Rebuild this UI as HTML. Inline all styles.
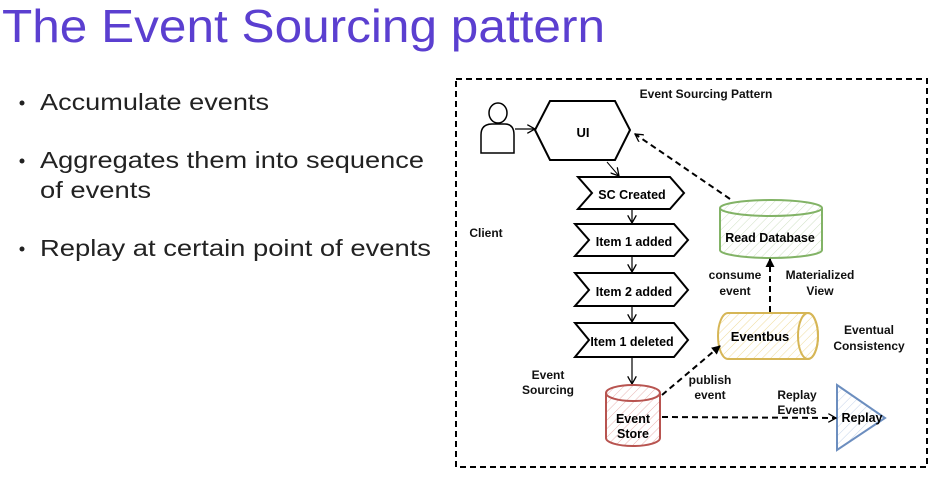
<!DOCTYPE html>
<html><head><meta charset="utf-8"><style>
html,body{margin:0;padding:0;background:#fff;width:937px;height:478px;overflow:hidden}
svg{display:block}
</style></head><body>
<svg width="937" height="478" viewBox="0 0 937 478" xmlns="http://www.w3.org/2000/svg" font-family="Liberation Sans, Arial, sans-serif">
<defs>
<pattern id="hr" width="6" height="6" patternUnits="userSpaceOnUse" patternTransform="rotate(45)"><line x1="0" y1="0" x2="0" y2="6" stroke="#e8b4b2" stroke-width="1"/></pattern>
<pattern id="hy" width="6" height="6" patternUnits="userSpaceOnUse" patternTransform="rotate(45)"><line x1="0" y1="0" x2="0" y2="6" stroke="#f0dc9c" stroke-width="1"/></pattern>
<pattern id="hg" width="6" height="6" patternUnits="userSpaceOnUse" patternTransform="rotate(45)"><line x1="0" y1="0" x2="0" y2="6" stroke="#cfe0c3" stroke-width="1"/></pattern>
<pattern id="hb" width="6" height="6" patternUnits="userSpaceOnUse" patternTransform="rotate(45)"><line x1="0" y1="0" x2="0" y2="6" stroke="#c3d3ea" stroke-width="1"/></pattern>
<marker id="ar" markerUnits="userSpaceOnUse" markerWidth="9" markerHeight="9" refX="8" refY="4.5" orient="auto"><path d="M0,0 L8,4.5 L0,9" fill="none" stroke="#000" stroke-width="1.3"/></marker>
<marker id="af" markerUnits="userSpaceOnUse" markerWidth="9" markerHeight="9" refX="8" refY="4.5" orient="auto"><path d="M0,0 L9,4.5 L0,9 Z" fill="#000"/></marker>
</defs>
<text x="2" y="42" font-size="46" fill="#5b3fd0" textLength="603" lengthAdjust="spacingAndGlyphs">The Event Sourcing pattern</text>
<g font-size="23" fill="#222">
<circle cx="22" cy="103" r="2.5" fill="#222"/><text x="40" y="110" textLength="229" lengthAdjust="spacingAndGlyphs">Accumulate events</text>
<circle cx="22" cy="161" r="2.5" fill="#222"/><text x="40" y="168" textLength="384" lengthAdjust="spacingAndGlyphs">Aggregates them into sequence</text>
<text x="40" y="198" textLength="111" lengthAdjust="spacingAndGlyphs">of events</text>
<circle cx="22" cy="249" r="2.5" fill="#222"/><text x="40" y="256" textLength="391" lengthAdjust="spacingAndGlyphs">Replay at certain point of events</text>
</g>
<rect x="456" y="79" width="471" height="388" fill="none" stroke="#000" stroke-width="2" stroke-dasharray="6,4"/>
<g font-size="12" font-weight="bold" fill="#111" text-anchor="middle">
<text x="706" y="98">Event Sourcing Pattern</text>
<text x="486" y="237">Client</text>
<text x="735" y="279">consume</text><text x="735" y="295">event</text>
<text x="820" y="279">Materialized</text><text x="820" y="295">View</text>
<text x="869" y="334">Eventual</text><text x="869" y="350">Consistency</text>
<text x="548" y="379">Event</text><text x="548" y="394">Sourcing</text>
<text x="710" y="384">publish</text><text x="710" y="399">event</text>
<text x="797" y="399">Replay</text><text x="797" y="414">Events</text>
</g>
<g fill="#fff" stroke="#000" stroke-width="1.5">
<path d="M481,153 L481,135 Q481,124 492,124 L505,124 Q514,124 514,135 L514,153 Z"/>
<ellipse cx="498" cy="113" rx="9" ry="10"/>
</g>
<line x1="515" y1="129" x2="535" y2="129" stroke="#000" stroke-width="1.3" marker-end="url(#ar)"/>
<polygon points="535,130 550,101 615,101 630,130 615,160 550,160" fill="#fff" stroke="#000" stroke-width="2"/>
<text x="583" y="137" font-size="13" font-weight="bold" text-anchor="middle">UI</text>
<line x1="607" y1="162" x2="619" y2="176" stroke="#000" stroke-width="1" marker-end="url(#ar)"/>
<g fill="#fff" stroke="#000" stroke-width="2">
<polygon points="578,177 670,177 684,193 670,209 578,209 592,193"/>
<polygon points="575,224 674,224 688,240 674,256 575,256 589,240"/>
<polygon points="575,273 674,273 688,290 674,306 575,306 589,290"/>
<polygon points="575,323 674,323 688,340 674,357 575,357 589,340"/>
</g>
<g font-size="12.5" font-weight="bold" text-anchor="middle">
<text x="632" y="199">SC Created</text>
<text x="634" y="246">Item 1 added</text>
<text x="634" y="296">Item 2 added</text>
<text x="632" y="346">Item 1 deleted</text>
</g>
<g stroke="#000" stroke-width="1.2">
<line x1="632" y1="209" x2="632" y2="223" marker-end="url(#ar)"/>
<line x1="632" y1="256" x2="632" y2="272" marker-end="url(#ar)"/>
<line x1="632" y1="306" x2="632" y2="322" marker-end="url(#ar)"/>
<line x1="632" y1="357" x2="632" y2="384" marker-end="url(#ar)"/>
</g>
<path d="M606,393 L606,438 A27,8 0 0 0 660,438 L660,393 A27,8 0 0 0 606,393 Z" fill="url(#hr)" stroke="#b85450" stroke-width="2"/>
<path d="M606,393 A27,8 0 0 0 660,393" fill="none" stroke="#b85450" stroke-width="2"/>
<text x="633" y="423" font-size="12.5" font-weight="bold" text-anchor="middle">Event</text>
<text x="633" y="438" font-size="12.5" font-weight="bold" text-anchor="middle">Store</text>
<path d="M728,313 L808,313 A10,23 0 0 1 808,359 L728,359 A10,23 0 0 1 728,313 Z" fill="url(#hy)" stroke="#d6b656" stroke-width="2"/>
<ellipse cx="808" cy="336" rx="10" ry="23" fill="none" stroke="#d6b656" stroke-width="2"/>
<text x="760" y="341" font-size="13" font-weight="bold" text-anchor="middle">Eventbus</text>
<path d="M720,208 L720,250 A51,8 0 0 0 822,250 L822,208 A51,8 0 0 0 720,208 Z" fill="url(#hg)" stroke="#82b366" stroke-width="2"/>
<path d="M720,208 A51,8 0 0 0 822,208" fill="none" stroke="#82b366" stroke-width="2"/>
<text x="770" y="242" font-size="12.5" font-weight="bold" text-anchor="middle">Read Database</text>
<polygon points="837,385 885,418 837,450" fill="url(#hb)" stroke="#6c8ebf" stroke-width="2"/>
<text x="862" y="422" font-size="12.5" font-weight="bold" text-anchor="middle">Replay</text>
<g stroke="#000" stroke-width="2" stroke-dasharray="6,4" fill="none">
<line x1="730" y1="199" x2="635" y2="134" marker-end="url(#ar)"/>
<line x1="770" y1="312" x2="770" y2="259" marker-end="url(#af)"/>
<line x1="662" y1="395" x2="720" y2="346" marker-end="url(#af)"/>
<line x1="662" y1="417" x2="836" y2="418" marker-end="url(#ar)"/>
</g>
</svg>
</body></html>
